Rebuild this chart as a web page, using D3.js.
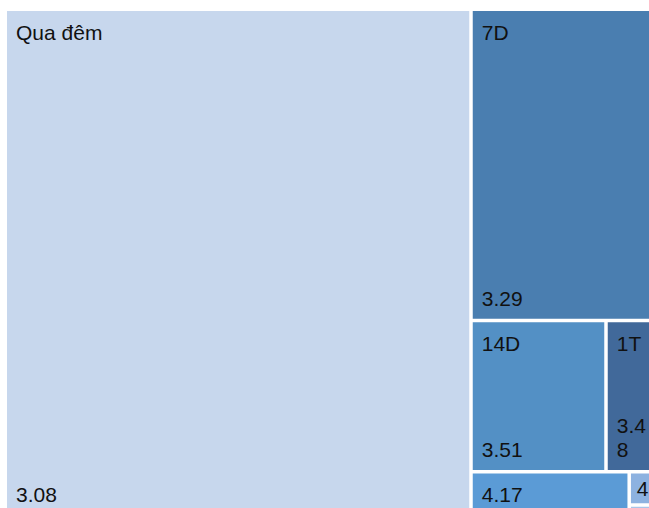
<!DOCTYPE html>
<html><head><meta charset="utf-8">
<script src="https://cdn.jsdelivr.net/npm/d3@7"></script>
<style>html,body{margin:0;padding:0;background:#fff;overflow:hidden}</style>
</head><body><svg id="chart" width="649" height="508"></svg>
<script>
// Data (rates shown as labels, volumes drive the cell areas)
const categories = ["Qua đêm", "7D", "14D", "1T", "3T", "6T", "9T"];
const volumes = [236368, 58515, 20419, 8016, 7119, 991, 350];
const rates = [3.08, 3.29, 3.51, 3.48, 4.17, 4.35, 4.60];
const palette = ["#c7d7ed", "#4a7eb0", "#5390c5", "#41699a", "#5b9bd6", "#8db2e0", "#a9c4e8"];

const W = 649, H = 508;
const origin = [5.25, 9.25], size = [653.75, 507.5], gap = 3.5;
const fs = 21, lh = 24;
const font = "'Liberation Sans', Arial, Helvetica, sans-serif";

const root = d3.hierarchy({children: categories.map((c, i) => ({name: c, value: volumes[i], rate: rates[i], color: palette[i]}))})
  .sum(d => d.value || 0);
d3.treemap().size(size).tile(d3.treemapSquarify).round(false)(root);

const svg = d3.select("#chart");
const tmp = svg.append("text").attr("font-family", font).attr("font-size", fs).attr("x", -1000).attr("y", -1000);
function measure(s) { tmp.text(s); return tmp.node().getComputedTextLength(); }
function wrap(str, avail) {
  const words = str.split(" "), lines = [];
  let cur = "";
  for (const w of words) {
    const t = cur ? cur + " " + w : w;
    if (measure(t) <= avail || !cur) cur = t; else { lines.push(cur); cur = w; }
    while (cur.length > 1 && measure(cur) > avail) {
      let k = cur.length - 1;
      while (k > 1 && measure(cur.slice(0, k)) > avail) k--;
      lines.push(cur.slice(0, k)); cur = cur.slice(k);
    }
  }
  if (cur) lines.push(cur);
  return lines;
}

const g = svg.append("g").attr("transform", `translate(${origin[0]},${origin[1]})`);
const cells = g.selectAll("g.cell").data(root.leaves()).join("g").attr("class", "cell");
cells.each(function(d, i) {
  const x = d.x0 + gap / 2, y = d.y0 + gap / 2, w = d.x1 - d.x0 - gap, h = d.y1 - d.y0 - gap;
  const sel = d3.select(this);
  sel.append("clipPath").attr("id", "clip" + i).append("rect").attr("x", x).attr("y", y).attr("width", w).attr("height", h);
  sel.append("rect").attr("x", x).attr("y", y).attr("width", w).attr("height", h).attr("fill", d.data.color);
  if (h < fs) return; // too small for any label
  const tg = sel.append("g").attr("clip-path", `url(#clip${i})`)
    .attr("font-family", font).attr("font-size", fs).attr("fill", "#111");
  const pad = Math.min(9, w * 0.22), avail = w - 2 * pad;
  const nameLines = wrap(d.data.name, avail);
  const valLines = wrap(d.data.rate.toFixed(2), avail);
  const full = 29 + 13 + lh * (nameLines.length + valLines.length - 1) + 8;
  if (h >= full) {
    nameLines.forEach((l, j) => tg.append("text").attr("x", x + pad).attr("y", y + 29 + j * lh).text(l));
    const last = y + h - 13;
    valLines.forEach((l, j) => tg.append("text").attr("x", x + pad).attr("y", last - (valLines.length - 1 - j) * lh).text(l));
  } else {
    const k = Math.max(1, Math.min(valLines.length, Math.floor(h / lh)));
    const first = y + h / 2 - (k - 1) * lh / 2 + 0.36 * fs;
    valLines.slice(0, k).forEach((l, j) => tg.append("text").attr("x", x + pad).attr("y", first + j * lh).text(l));
  }
});
tmp.remove();
</script>
</body></html>
